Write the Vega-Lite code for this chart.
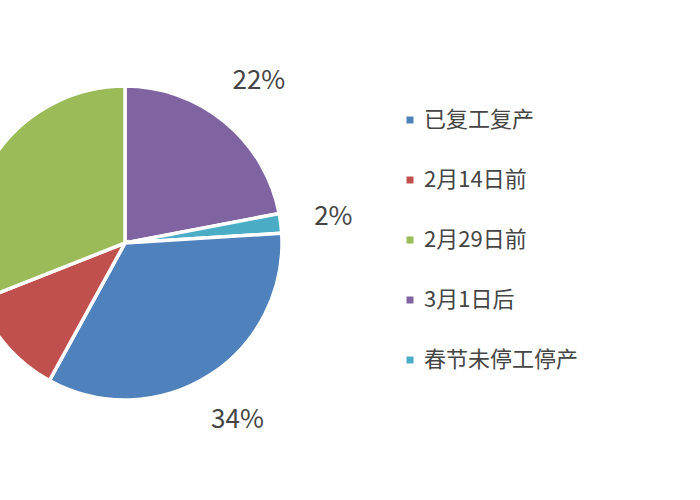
{
  "$schema": "https://vega.github.io/schema/vega-lite/v6.json",
  "width": 250,
  "height": 486,
  "padding": {"left": 0, "top": 0, "right": 450, "bottom": 14},
  "autosize": {"type": "none"},
  "background": "white",
  "data": {
    "values": [
      {"category": "3月1日后", "share": 0.22, "order": 1},
      {"category": "春节未停工停产", "share": 0.02, "order": 2},
      {"category": "已复工复产", "share": 0.34, "order": 3},
      {"category": "2月14日前", "share": 0.11, "order": 4},
      {"category": "2月29日前", "share": 0.31, "order": 5}
    ]
  },
  "encoding": {
    "theta": {"field": "share", "type": "quantitative", "stack": true},
    "order": {"field": "order", "type": "quantitative"},
    "color": {
      "field": "category",
      "type": "nominal",
      "scale": {
        "domain": ["已复工复产", "2月14日前", "2月29日前", "3月1日后", "春节未停工停产"],
        "range": ["#4F81BD", "#C0504D", "#9BBB59", "#8064A2", "#4BACC6"]
      },
      "legend": {
        "title": null,
        "orient": "none",
        "legendX": 399,
        "legendY": 109,
        "symbolType": "square",
        "symbolSize": 49,
        "symbolStrokeWidth": 0,
        "labelFontSize": 22,
        "labelFont": "Noto Sans CJK SC",
        "labelColor": "#454545",
        "labelOffset": 3,
        "rowPadding": 38,
        "labelLimit": 300
      }
    }
  },
  "layer": [
    {
      "mark": {"type": "arc", "outerRadius": 157, "stroke": "white", "strokeWidth": 3.5}
    },
    {
      "mark": {
        "type": "text",
        "radius": 210,
        "fontSize": 26,
        "font": "Noto Sans CJK SC",
        "color": "#454545"
      },
      "encoding": {
        "text": {"field": "share", "type": "quantitative", "format": ".0%"},
        "color": {"value": "#454545"}
      }
    }
  ],
  "config": {"view": {"stroke": null}}
}
